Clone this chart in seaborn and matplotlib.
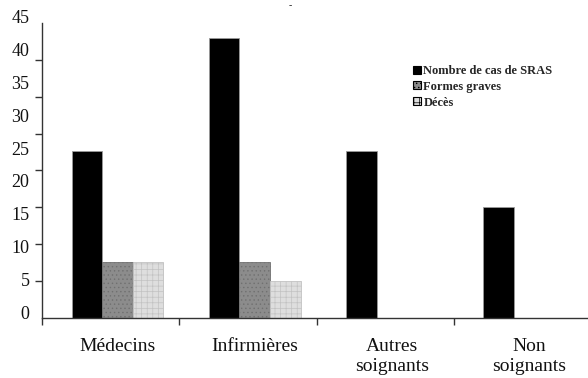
import matplotlib
matplotlib.use("Agg")
import numpy as np
import pandas as pd
import matplotlib.pyplot as plt
import seaborn as sns
from matplotlib.patches import Patch
from matplotlib.ticker import FixedLocator
from matplotlib.transforms import ScaledTranslation

# Data
categories = ["Médecins", "Infirmières", "Autres\nsoignants", "Non\nsoignants"]
series = ["Nombre de cas de SRAS", "Formes graves", "Décès"]
cas_sras = [25.5, 42.6, 25.5, 17.0]
formes_graves = [8.5, 8.5, 0.0, 0.0]
deces = [8.5, 5.6, 0.0, 0.0]
y_ticks = [0, 5, 10, 15, 20, 25, 30, 35, 40, 45]

# Bar styles per series: face, edge/hatch colour, hatch
styles = {
    "Nombre de cas de SRAS": ("#000000", "#9a9a9a", None),
    "Formes graves": ("#8c8c8c", "#707070", "...."),
    "Décès": ("#dedede", "#c2c2c2", "+++"),
}

sns.set_theme(style="white")
plt.rcParams["font.family"] = ["Liberation Serif", "DejaVu Serif"]
plt.rcParams["hatch.linewidth"] = 0.5

df = pd.DataFrame({
    "categorie": categories * 3,
    "serie": [series[0]] * 4 + [series[1]] * 4 + [series[2]] * 4,
    "valeur": cas_sras + formes_graves + deces,
})

fig = plt.figure(figsize=(5.88, 3.78), dpi=100)
ax = fig.add_axes([0.0714, 0.158, 0.934, 0.782])

sns.barplot(
    data=df, x="categorie", y="valeur", hue="serie",
    order=categories, hue_order=series,
    palette=[styles[s][0] for s in series],
    width=0.67, saturation=1, errorbar=None, legend=False, ax=ax,
)

for cont, name in zip(ax.containers, series):
    face, edge, hatch = styles[name]
    for bar in cont:
        bar.set_facecolor(face)
        bar.set_edgecolor(edge)
        bar.set_linewidth(0.6)
        if hatch:
            bar.set_hatch(hatch)

# Axes
ax.set_xlim(-0.55, 3.45)
ax.set_ylim(0, 45)
ax.set_xlabel("")
ax.set_ylabel("")
ax.grid(False)
for side in ("top", "right"):
    ax.spines[side].set_visible(False)
for side in ("left", "bottom"):
    ax.spines[side].set_color("#333333")
    ax.spines[side].set_linewidth(1.0)

ax.set_yticks(y_ticks)
ax.set_yticklabels([str(v) for v in y_ticks])
ax.yaxis.set_minor_locator(FixedLocator(np.linspace(0, 45, 9)))
ax.tick_params(axis="y", which="major", length=0, pad=9, labelsize=13, labelcolor="#111111")
ax.tick_params(axis="y", which="minor", length=5, width=1, direction="out", color="#333333", left=True)
shift = ScaledTranslation(0, 6 / 100, fig.dpi_scale_trans)
for lab in ax.get_yticklabels():
    lab.set_transform(lab.get_transform() + shift)

ax.set_xticks(range(len(categories)))
ax.set_xticklabels(categories, linespacing=1.25)
ax.xaxis.set_minor_locator(FixedLocator(np.arange(-0.55, 3.5, 1.0)))
ax.tick_params(axis="x", which="major", length=0, pad=14, labelsize=14, labelcolor="#111111")
ax.tick_params(axis="x", which="minor", length=5, width=1, direction="out", color="#333333", bottom=True)

# Legend
handles = [
    Patch(facecolor=styles[s][0], edgecolor="#000000", hatch=styles[s][2], linewidth=0.8)
    for s in series
]
fig.legend(
    handles, series, loc="upper left", bbox_to_anchor=(0.703, 0.828),
    frameon=False, prop={"family": "Liberation Serif", "weight": "bold", "size": 9},
    handlelength=0.6, handleheight=0.6, handletextpad=0.2,
    labelspacing=0.3, borderpad=0, borderaxespad=0,
)

fig.text(290 / 588, 1 - 6 / 378, "-", ha="center", va="center", fontsize=7, color="#222222")

fig.savefig("out.png", dpi=100)
